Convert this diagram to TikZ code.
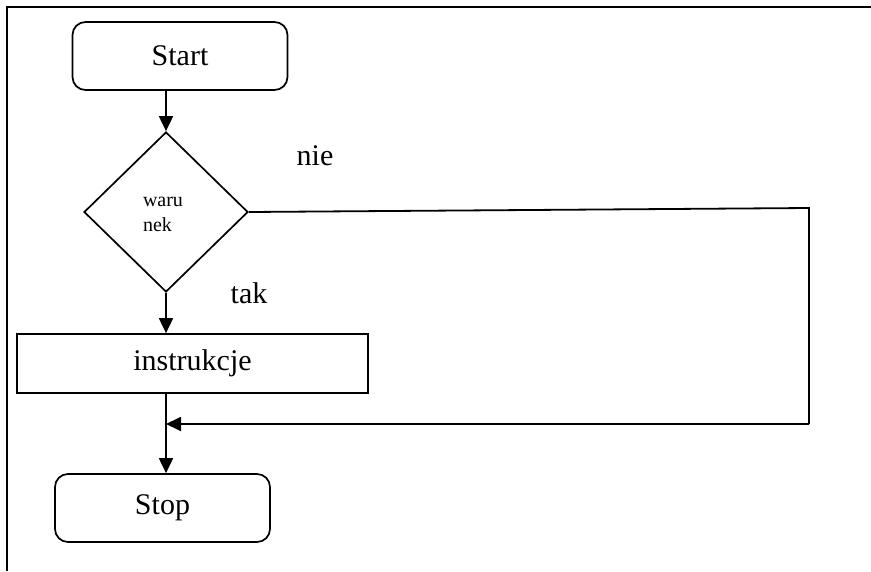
\documentclass[tikz,border=0pt]{standalone}
\usepackage{fontspec}
\setmainfont{Liberation Serif}
\usetikzlibrary{shapes.geometric,arrows.meta}
\begin{document}
\begin{tikzpicture}[x=1pt,y=-1pt,
  every node/.style={font=\fontsize{30}{36}\selectfont},
  term/.style={draw,line width=1.7pt,rounded corners=13pt,inner sep=0pt},
  procbox/.style={draw,line width=1.7pt,inner sep=0pt},
  decision/.style={draw,diamond,line width=1.7pt,inner sep=0pt,minimum width=164pt,minimum height=160pt},
  flow/.style={line width=1.8pt,-{Triangle[length=15pt,width=14pt]}},
  plain/.style={line width=1.8pt},
  lbl/.style={inner sep=0pt}]
\useasboundingbox (0,0) rectangle (871,571);
% frame
\draw[line width=1.8pt] (7,571) -- (7,7) -- (871,7);
% nodes
\node[term,minimum width=215pt,minimum height=68pt] (start) at (180,56) {Start};
\node[decision] (cond) at (166,212) {};
\node[lbl,font=\fontsize{20}{25}\selectfont,align=left] (condtxt) at (163,214) {waru\\nek};
\node[procbox,minimum width=351pt,minimum height=59pt] (instr) at (192.5,363.5) {instrukcje};
\node[term,minimum width=215pt,minimum height=68pt] (stop) at (162.5,508) {Stop};
\node[lbl] (nie) at (315,156) {nie};
\node[lbl] (tak) at (249,293) {tak};
% helper coordinates
\coordinate (c1) at (809,208);
\coordinate (c2) at (809,424);
% connectors
\draw[flow] (start.south -| cond.north) -- (cond.north);
\draw[flow] (cond.south) -- (cond.south |- instr.north);
\draw[flow] (instr.south -| cond.south) -- (stop.north -| cond.south);
\draw[plain] (cond.east) -- (c1) -- (c2);
\draw[flow] (c2) -- (c2 -| cond.south);
\end{tikzpicture}
\end{document}
